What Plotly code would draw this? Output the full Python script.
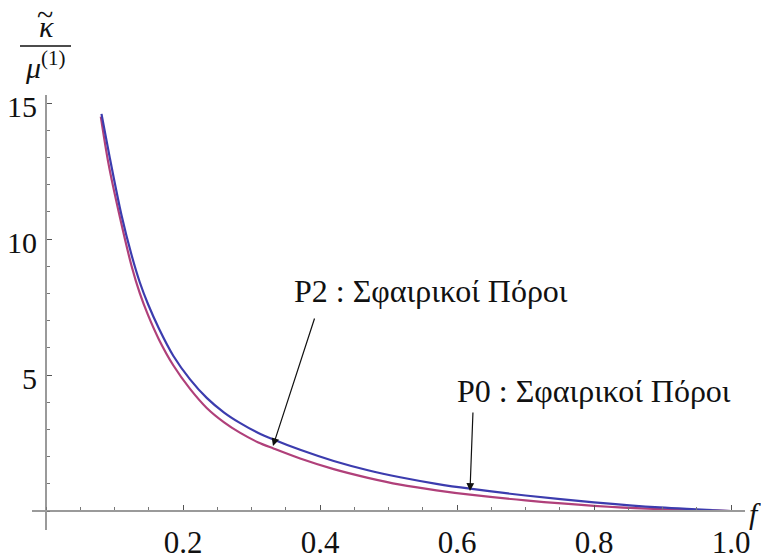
import plotly.graph_objects as go

# ---- data ----
f_p2 = [0.081, 0.093, 0.11, 0.125, 0.137, 0.149, 0.165, 0.186, 0.21, 0.235, 0.26, 0.283,
        0.31, 0.332, 0.371, 0.42, 0.47, 0.517, 0.57, 0.619, 0.70, 0.80, 0.896, 1.0]
k_p2 = [14.6, 13.0, 10.9, 9.4, 8.4, 7.6, 6.7, 5.7, 4.85, 4.15, 3.62, 3.24,
        2.87, 2.63, 2.25, 1.84, 1.5, 1.24, 1.0, 0.82, 0.57, 0.32, 0.13, 0.0]

f_p0 = [0.080, 0.091, 0.107, 0.125, 0.137, 0.149, 0.165, 0.186, 0.21, 0.235, 0.26, 0.283,
        0.31, 0.332, 0.371, 0.42, 0.47, 0.517, 0.57, 0.619, 0.70, 0.80, 0.896, 1.0]
k_p0 = [14.5, 12.8, 10.9, 9.0, 8.0, 7.2, 6.3, 5.35, 4.5, 3.78, 3.26, 2.88,
        2.52, 2.3, 1.93, 1.54, 1.22, 0.97, 0.76, 0.6, 0.39, 0.19, 0.07, 0.0]

x_ticks = [0.2, 0.4, 0.6, 0.8, 1.0]
x_ticklabels = ["0.2", "0.4", "0.6", "0.8", "1.0"]
y_ticks = [5, 10, 15]
y_ticklabels = ["5", "10", "15"]

label_p2 = "P2 : Σφαιρικοί Πόροι"
label_p0 = "P0 : Σφαιρικοί Πόροι"

# page has an 8px body margin: figure is placed at (8, 8)
OFF = 8
W, H = 769 - OFF, 560 - OFF
BLUE = "#3c3cae"
PURPLE = "#b0407a"
AXIS = "#9a9a9a"
SERIF = "Liberation Serif"


def pxp(p):  # page pixel x -> paper x
    return (p - OFF) / W


def pyp(p):  # page pixel y -> paper y
    return 1 - (p - OFF) / H


fig = go.Figure()
fig.add_trace(go.Scatter(x=f_p0, y=k_p0, mode="lines",
                         line=dict(color=PURPLE, width=2.2, shape="spline", smoothing=0.8),
                         showlegend=False, hoverinfo="skip"))
fig.add_trace(go.Scatter(x=f_p2, y=k_p2, mode="lines",
                         line=dict(color=BLUE, width=2.2, shape="spline", smoothing=0.8),
                         showlegend=False, hoverinfo="skip"))

# page-pixel geometry from the reference
x0px, x1px = 32, 745
ytop, ybot = 95, 530
ox, oy = 46, 511
sx, sy = 685.0, 27.2

xr = [(x0px - ox) / sx, (x1px - ox) / sx]
yr = [(oy - ybot) / sy, (oy - ytop) / sy]

fig.update_layout(
    width=W, height=H,
    margin=dict(l=0, r=0, t=0, b=0, autoexpand=False),
    paper_bgcolor="white", plot_bgcolor="white",
    font=dict(family=SERIF, size=30, color="#111"),
    xaxis=dict(domain=[pxp(x0px), pxp(x1px)], range=xr, anchor="free", position=pyp(oy),
               automargin=False,
               showgrid=False, zeroline=False, showline=True, linecolor=AXIS, linewidth=2,
               tickvals=x_ticks, ticktext=x_ticklabels, ticks="inside", ticklen=5, tickwidth=1,
               tickcolor="#555", tickfont=dict(family=SERIF, size=31, color="#111"),
               minor=dict(ticks="inside", ticklen=3, tickwidth=1, tickcolor="#777", dtick=0.05, tick0=0),
               ticklabelstandoff=4, fixedrange=True),
    yaxis=dict(domain=[pyp(ybot), pyp(ytop)], range=yr, anchor="free", position=pxp(ox),
               automargin=False,
               showgrid=False, zeroline=False, showline=True, linecolor=AXIS, linewidth=2,
               tickvals=y_ticks, ticktext=y_ticklabels, ticks="inside", ticklen=5, tickwidth=1,
               tickcolor="#555", tickfont=dict(family=SERIF, size=30, color="#111"),
               minor=dict(ticks="inside", ticklen=3, tickwidth=1, tickcolor="#777", dtick=1, tick0=0),
               ticklabelstandoff=2, ticklabelshift=3, fixedrange=True),
)


def px2x(p):
    return (p - ox) / sx


def py2y(p):
    return (oy - p) / sy


# arrows
fig.add_annotation(x=px2x(273), y=py2y(446), ax=px2x(315), ay=py2y(317), xref="x", yref="y",
                   axref="x", ayref="y", text="", showarrow=True, arrowhead=2, arrowsize=1.3,
                   arrowwidth=1.2, arrowcolor="#111")
fig.add_annotation(x=px2x(470), y=py2y(491), ax=px2x(473), ay=py2y(411), xref="x", yref="y",
                   axref="x", ayref="y", text="", showarrow=True, arrowhead=2, arrowsize=1.3,
                   arrowwidth=1.2, arrowcolor="#111")

# curve labels
fig.add_annotation(x=px2x(431), y=py2y(291), xref="x", yref="y", text=label_p2, showarrow=False,
                   xanchor="center", yanchor="middle",
                   font=dict(family=SERIF, size=32, color="#111"))
fig.add_annotation(x=px2x(594), y=py2y(391), xref="x", yref="y", text=label_p0, showarrow=False,
                   xanchor="center", yanchor="middle",
                   font=dict(family=SERIF, size=32, color="#111"))

# y-axis label (fraction)
fig.add_annotation(x=pxp(46), y=pyp(26), xref="paper", yref="paper", text="<i>κ</i>", showarrow=False,
                   xanchor="center", yanchor="middle", font=dict(family=SERIF, size=30, color="#111"))
fig.add_annotation(x=pxp(45), y=pyp(15), xref="paper", yref="paper", text="~", showarrow=False,
                   xanchor="center", yanchor="middle", font=dict(family=SERIF, size=30, color="#111"))
fig.add_shape(type="line", xref="paper", yref="paper", x0=pxp(20), x1=pxp(71), y0=pyp(46), y1=pyp(46),
              line=dict(color="#111", width=1.5))
fig.add_annotation(x=pxp(45), y=pyp(65), xref="paper", yref="paper",
                   text="<i>μ</i><sup>(1)</sup>", showarrow=False,
                   xanchor="center", yanchor="middle", font=dict(family=SERIF, size=30, color="#111"))

# x-axis label
fig.add_annotation(x=pxp(755), y=pyp(513), xref="paper", yref="paper", text="<i>f</i>", showarrow=False,
                   xanchor="center", yanchor="middle", font=dict(family=SERIF, size=30, color="#111"))

fig.write_html("out.html")
